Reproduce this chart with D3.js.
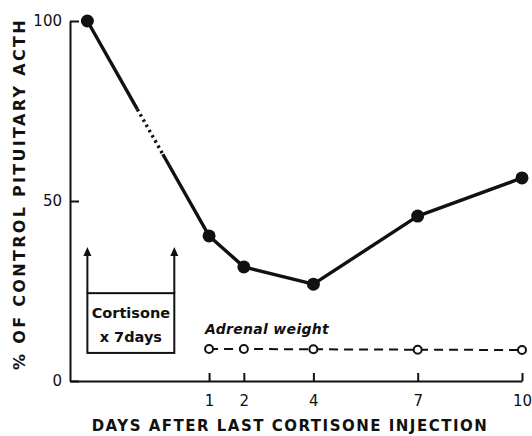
<!DOCTYPE html>
<html><head><meta charset="utf-8">
<script src="https://cdn.jsdelivr.net/npm/d3@7"></script>
<style>
body{margin:0;background:#fff;}
text{font-family:"DejaVu Sans","Liberation Sans",sans-serif;font-weight:bold;fill:#111;}
</style></head>
<body><svg id="c" width="532" height="436"></svg>
<script>
// data
const acthDays = [-2.5, 1, 2, 4, 7, 10];
const acthValues = [100, 40.3, 31.7, 26.9, 45.8, 56.4];
const adrenalDays = [1, 2, 4, 7, 10];
const adrenalValues = [8.9, 8.9, 8.8, 8.7, 8.6];
const xTicks = [1, 2, 4, 7, 10];
const yTicks = [0, 50, 100];
const boxDays = [-2.5, 0];
const boxValues = [7.8, 24.4];
const arrowTop = 37.2;
const dottedGap = [0.41, 0.62];

const svg = d3.select("#c");
const x = d3.scaleLinear().domain([-3, 10]).range([70, 522]);
const y = d3.scaleLinear().domain([0, 100]).range([381, 21]);
const ink = "#111";

// axes
const gx = svg.append("g").attr("transform", `translate(0,${y(0)})`)
  .call(d3.axisBottom(x).tickValues(xTicks).tickSizeInner(-8).tickSizeOuter(0).tickPadding(14).tickFormat(d3.format("d")));
const gy = svg.append("g").attr("transform", `translate(${x(-3)},0)`)
  .call(d3.axisLeft(y).tickValues(yTicks).tickSizeInner(-9).tickSizeOuter(0).tickPadding(8).tickFormat(d3.format("d")));
[gx, gy].forEach(g => {
  g.select(".domain").attr("stroke", ink).attr("stroke-width", 2);
  g.selectAll(".tick line").attr("stroke", ink).attr("stroke-width", 2);
  g.selectAll(".tick text").style("font-size", "15px").style("fill", ink)
    .style("font-family", "'DejaVu Sans'").style("font-weight", "normal");
});
gx.selectAll(".tick text").attr("dy", "0.71em");

// axis titles
svg.append("text").attr("x", 290).attr("y", 431).attr("text-anchor", "middle")
  .attr("font-size", 15).attr("letter-spacing", 1.5).text("DAYS AFTER LAST CORTISONE INJECTION");
svg.append("text").attr("transform", "translate(25,194) rotate(-90)").attr("text-anchor", "middle")
  .attr("font-size", 16).attr("letter-spacing", 2.3).text("% OF CONTROL PITUITARY ACTH");

// ACTH line
const pts = acthDays.map((d, i) => [x(d), y(acthValues[i])]);
const lerp = (a, b, t) => [a[0] + (b[0] - a[0]) * t, a[1] + (b[1] - a[1]) * t];
const g1 = lerp(pts[0], pts[1], dottedGap[0]);
const g2 = lerp(pts[0], pts[1], dottedGap[1]);
const line = d3.line();
svg.append("path").attr("d", line([pts[0], g1])).attr("stroke", ink).attr("stroke-width", 3.4).attr("fill", "none");
svg.append("path").attr("d", line([g1, g2])).attr("stroke", ink).attr("stroke-width", 3.4)
  .attr("stroke-dasharray", "2.5,3.5").attr("fill", "none");
svg.append("path").attr("d", line([g2].concat(pts.slice(1)))).attr("stroke", ink).attr("stroke-width", 3.4)
  .attr("fill", "none").attr("stroke-linejoin", "round");
svg.selectAll(".dot").data(acthDays).enter().append("circle")
  .attr("cx", d => x(d)).attr("cy", (d, i) => y(acthValues[i])).attr("r", 6.5).attr("fill", ink);

// Adrenal weight
svg.append("path").attr("d", line(adrenalDays.map((d, i) => [x(d), y(adrenalValues[i])])))
  .attr("stroke", ink).attr("stroke-width", 2).attr("stroke-dasharray", "9,6").attr("fill", "none");
svg.selectAll(".odot").data(adrenalDays).enter().append("circle")
  .attr("cx", d => x(d)).attr("cy", (d, i) => y(adrenalValues[i])).attr("r", 4)
  .attr("fill", "#fff").attr("stroke", ink).attr("stroke-width", 2);
svg.append("text").attr("x", x(1) - 4).attr("y", 334).attr("font-size", 14).attr("font-style", "italic")
  .attr("letter-spacing", 0.3).text("Adrenal weight");

// Cortisone box
const bx0 = x(boxDays[0]), bx1 = x(boxDays[1]);
svg.append("rect").attr("x", bx0).attr("y", y(boxValues[1])).attr("width", bx1 - bx0)
  .attr("height", y(boxValues[0]) - y(boxValues[1])).attr("fill", "none").attr("stroke", ink).attr("stroke-width", 2);
boxDays.forEach(d => {
  svg.append("line").attr("x1", x(d)).attr("x2", x(d)).attr("y1", y(boxValues[1])).attr("y2", y(arrowTop) + 6)
    .attr("stroke", ink).attr("stroke-width", 2);
  svg.append("path").attr("d", d3.line()([[x(d) - 4, y(arrowTop) + 9], [x(d), y(arrowTop)], [x(d) + 4, y(arrowTop) + 9]]) + "Z")
    .attr("fill", ink);
});
svg.append("text").attr("x", (bx0 + bx1) / 2).attr("y", 318).attr("text-anchor", "middle")
  .attr("font-size", 14.5).text("Cortisone");
svg.append("text").attr("x", (bx0 + bx1) / 2).attr("y", 342).attr("text-anchor", "middle")
  .attr("font-size", 14.5).text("x 7days");
</script></body></html>
